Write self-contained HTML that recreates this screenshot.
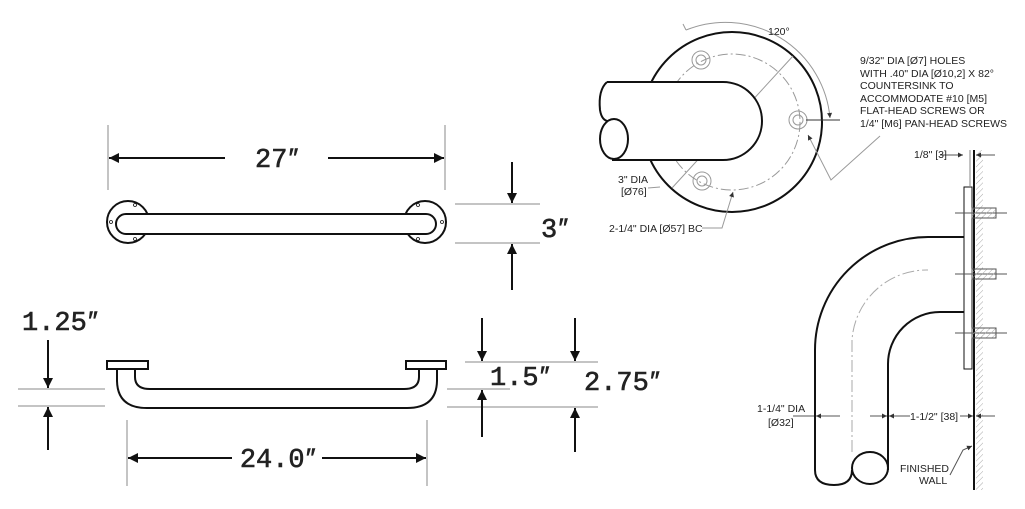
<!DOCTYPE html>
<html><head><meta charset="utf-8"><style>
html,body{margin:0;padding:0;background:#fff;}
svg{display:block}
.m{font-family:"Liberation Mono",monospace;font-size:27px;fill:#222;stroke:#222;stroke-width:0.6;}
.q{font-family:"Liberation Sans",sans-serif;font-style:italic;}
.s{font-family:"Liberation Sans",sans-serif;font-size:10.5px;fill:#222;}
</style></head><body>
<svg width="1025" height="509" viewBox="0 0 1025 509" xmlns="http://www.w3.org/2000/svg">
<defs>
<marker id="a" viewBox="0 0 10 10" refX="10" refY="5" markerWidth="14" markerHeight="10" markerUnits="userSpaceOnUse" orient="auto"><path d="M0,0 L10,5 L0,10 z" fill="#111"/></marker>
<marker id="b" viewBox="0 0 10 10" refX="10" refY="5" markerWidth="7" markerHeight="5" markerUnits="userSpaceOnUse" orient="auto"><path d="M0,0 L10,5 L0,10 z" fill="#333"/></marker>
<pattern id="h" width="4" height="4" patternUnits="userSpaceOnUse" patternTransform="rotate(45)"><line x1="0" y1="0" x2="0" y2="4" stroke="#aaa" stroke-width="1"/></pattern>
</defs>
<g stroke="#111" fill="none">
<g stroke-width="1" stroke="#888">
<line x1="108" y1="125" x2="108" y2="190"/><line x1="445" y1="125" x2="445" y2="190"/>
<line x1="455" y1="204" x2="540" y2="204"/><line x1="455" y1="243" x2="540" y2="243"/>
</g>
<g stroke-width="2">
<line x1="225" y1="158" x2="109" y2="158" marker-end="url(#a)"/>
<line x1="328" y1="158" x2="444" y2="158" marker-end="url(#a)"/>
<line x1="512" y1="162" x2="512" y2="203" marker-end="url(#a)"/>
<line x1="512" y1="290" x2="512" y2="244" marker-end="url(#a)"/>
</g>
<g stroke-width="2">
<circle cx="128" cy="222" r="21" fill="#fff"/>
<circle cx="425" cy="222" r="21" fill="#fff"/>
<rect x="116" y="214" width="320" height="20" rx="10" fill="#fff"/>
</g>
<g stroke-width="0.8">
<circle cx="135" cy="205" r="1.5"/><circle cx="135" cy="239" r="1.5"/><circle cx="111" cy="222" r="1.5"/>
<circle cx="418" cy="205" r="1.5"/><circle cx="418" cy="239" r="1.5"/><circle cx="442" cy="222" r="1.5"/>
</g>
<g stroke-width="1" stroke="#888">
<line x1="18" y1="389" x2="105" y2="389"/><line x1="18" y1="406" x2="105" y2="406"/>
<line x1="465" y1="362" x2="598" y2="362"/><line x1="447" y1="389" x2="510" y2="389"/><line x1="447" y1="407" x2="598" y2="407"/>
<line x1="127" y1="420" x2="127" y2="486"/><line x1="427" y1="420" x2="427" y2="486"/>
</g>
<g stroke-width="2">
<line x1="48" y1="340" x2="48" y2="388" marker-end="url(#a)"/>
<line x1="48" y1="450" x2="48" y2="407" marker-end="url(#a)"/>
<line x1="482" y1="318" x2="482" y2="361" marker-end="url(#a)"/>
<line x1="482" y1="437" x2="482" y2="390" marker-end="url(#a)"/>
<line x1="575" y1="318" x2="575" y2="361" marker-end="url(#a)"/>
<line x1="575" y1="452" x2="575" y2="408" marker-end="url(#a)"/>
<line x1="232" y1="458" x2="128" y2="458" marker-end="url(#a)"/>
<line x1="322" y1="458" x2="426" y2="458" marker-end="url(#a)"/>
</g>
<g stroke-width="2">
<path d="M117,369 L117,380 Q117,408 147,408 L407,408 Q437,408 437,380 L437,369"/>
<path d="M135,369 L135,377 Q135,389 150,389 L404,389 Q419,389 419,377 L419,369"/>
<rect x="107" y="361" width="41" height="8" fill="#fff"/>
<rect x="406" y="361" width="40" height="8" fill="#fff"/>
</g>
<circle cx="732" cy="122" r="90" stroke-width="2"/>
<circle cx="732" cy="122" r="68" stroke="#999" stroke-width="1" stroke-dasharray="10,3,2,3"/>
<g stroke="#999" stroke-width="1">
<circle cx="701" cy="60" r="9"/><circle cx="701" cy="60" r="5"/>
<circle cx="798" cy="120" r="9"/><circle cx="798" cy="120" r="5"/>
<circle cx="702" cy="181" r="9"/><circle cx="702" cy="181" r="5"/>
<line x1="672" y1="188" x2="793" y2="56"/>
<line x1="806" y1="120" x2="840" y2="120" stroke="#333"/>
<path d="M686,30 A105,105 0 0 1 830,118" marker-end="url(#b)"/>
<line x1="686" y1="30" x2="683" y2="24"/>
<path d="M880,136 L831,180 L808,135" marker-end="url(#b)"/>
<path d="M660,187 L648,188" />
<path d="M702,228 L722,228 L733,192" marker-end="url(#b)"/>
</g>
<path d="M607,82 L723,82 A39,39 0 0 1 723,160 L612,160" stroke-width="2" fill="#fff"/>
<path d="M607,82 Q598,90 600,110 Q602,122 610,121" stroke-width="2" fill="#fff"/>
<ellipse cx="614" cy="139" rx="14" ry="20" stroke-width="2" fill="#fff"/>
<rect x="976" y="150" width="7" height="340" fill="url(#h)" stroke="none"/>
<line x1="974" y1="150" x2="974" y2="490" stroke-width="2"/>
<line x1="970" y1="150" x2="970" y2="186" stroke="#666" stroke-width="0.8"/>
<rect x="964" y="187" width="8" height="182" fill="#fff" stroke-width="1"/>
<g stroke="#555" stroke-width="1">
<line x1="955" y1="213" x2="1007" y2="213"/><rect x="972" y="208" width="24" height="10" fill="url(#h)"/>
<line x1="955" y1="274" x2="1007" y2="274"/><rect x="972" y="269" width="24" height="10" fill="url(#h)"/>
<line x1="955" y1="333" x2="1007" y2="333"/><rect x="972" y="328" width="24" height="10" fill="url(#h)"/>
<line x1="940" y1="155" x2="963" y2="155" marker-end="url(#b)"/>
<line x1="995" y1="155" x2="976" y2="155" marker-end="url(#b)"/>
<line x1="793" y1="416" x2="815" y2="416"/>
<line x1="840" y1="416" x2="816" y2="416" marker-end="url(#b)"/>
<line x1="870" y1="416" x2="887" y2="416" marker-end="url(#b)"/>
<line x1="910" y1="416" x2="889" y2="416" marker-end="url(#b)"/>
<line x1="960" y1="416" x2="973" y2="416" marker-end="url(#b)"/>
<line x1="995" y1="416" x2="976" y2="416" marker-end="url(#b)"/>
<path d="M950,475 L963,450 L972,446" marker-end="url(#b)"/>
</g>
<path d="M964,237 L928,237 A113,113 0 0 0 815,350 L815,470 Q815,485 834,485 Q852,485 852,470" stroke-width="2"/>
<path d="M964,312 L940,312 A52,52 0 0 0 888,364 L888,470" stroke-width="2"/>
<ellipse cx="870" cy="468" rx="18" ry="16" stroke-width="2" fill="#fff"/>
<path d="M852,452 L852,340 A75,75 0 0 1 928,270" stroke="#aaa" stroke-width="1" stroke-dasharray="12,3,2,3"/>
</g>
<text class="m" x="276" y="167" text-anchor="middle">27<tspan class="q">″</tspan></text>
<text class="m" x="541" y="237">3<tspan class="q">″</tspan></text>
<text class="m" x="22" y="330">1.25<tspan class="q">″</tspan></text>
<text class="m" x="490" y="385">1.5<tspan class="q">″</tspan></text>
<text class="m" x="584" y="390">2.75<tspan class="q">″</tspan></text>
<text class="m" x="277" y="467" text-anchor="middle">24.0<tspan class="q">″</tspan></text>
<text class="s" x="768" y="35">120°</text>
<text class="s" x="860" y="64">9/32" DIA [Ø7] HOLES</text>
<text class="s" x="860" y="77">WITH .40" DIA [Ø10,2] X 82°</text>
<text class="s" x="860" y="89">COUNTERSINK TO</text>
<text class="s" x="860" y="102">ACCOMMODATE #10 [M5]</text>
<text class="s" x="860" y="114">FLAT-HEAD SCREWS OR</text>
<text class="s" x="860" y="127">1/4" [M6] PAN-HEAD SCREWS</text>
<text class="s" x="618" y="183">3" DIA</text>
<text class="s" x="621" y="195">[Ø76]</text>
<text class="s" x="609" y="232">2-1/4" DIA [Ø57] BC</text>
<text class="s" x="914" y="158">1/8" [3]</text>
<text class="s" x="757" y="412">1-1/4" DIA</text>
<text class="s" x="768" y="426">[Ø32]</text>
<text class="s" x="910" y="420">1-1/2" [38]</text>
<text class="s" x="900" y="472">FINISHED</text>
<text class="s" x="919" y="484">WALL</text>
</svg>
</body></html>
